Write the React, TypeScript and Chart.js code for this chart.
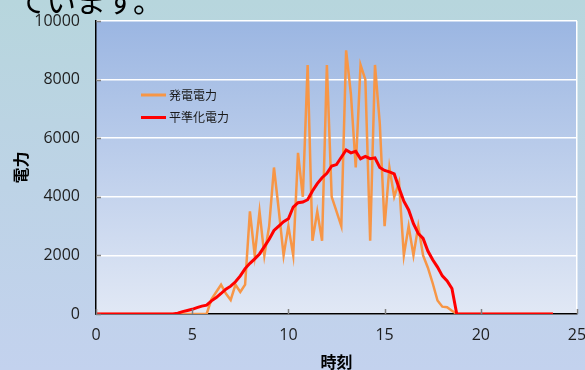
import React, { useEffect, useRef } from 'react';
import { Chart, registerables } from 'chart.js';

Chart.register(...registerables);

const captionText = 'ています。';
const seriesLabels = ['発電電力', '平準化電力'];
const xTitle = '時刻';
const yTitle = '電力';
const xTicks = [0, 5, 10, 15, 20, 25];
const yTicks = [0, 2000, 4000, 6000, 8000, 10000];

const times = [
  0, 0.25, 0.5, 0.75, 1, 1.25, 1.5, 1.75, 2, 2.25, 2.5, 2.75,
  3, 3.25, 3.5, 3.75, 4, 4.25, 4.5, 4.75, 5, 5.25, 5.5, 5.75,
  6, 6.25, 6.5, 6.75, 7, 7.25, 7.5, 7.75, 8, 8.25, 8.5, 8.75,
  9, 9.25, 9.5, 9.75, 10, 10.25, 10.5, 10.75, 11, 11.25, 11.5, 11.75,
  12, 12.25, 12.5, 12.75, 13, 13.25, 13.5, 13.75, 14, 14.25, 14.5, 14.75,
  15, 15.25, 15.5, 15.75, 16, 16.25, 16.5, 16.75, 17, 17.25, 17.5, 17.75,
  18, 18.25, 18.5, 18.75, 19, 19.25, 19.5, 19.75, 20, 20.25, 20.5, 20.75,
  21, 21.25, 21.5, 21.75, 22, 22.25, 22.5, 22.75, 23, 23.25, 23.5, 23.75,
];

// 発電電力
const generated = [
  0, 0, 0, 0, 0, 0, 0, 0, 0, 0, 0, 0,
  0, 0, 0, 0, 0, 0, 0, 0, 0, 0, 0, 0,
  500, 750, 1000, 700, 480, 1000, 750, 1000, 3500, 2000, 3500, 2000,
  3000, 5000, 3550, 2000, 3000, 2000, 5500, 4000, 8500, 2500, 3500, 2500,
  8500, 4000, 3500, 3000, 9000, 7500, 5000, 8500, 8000, 2500, 8500, 6500,
  3000, 5000, 4000, 4500, 2000, 3000, 2000, 3000, 2000, 1580, 1050, 460,
  250, 230, 110, 0, 0, 0, 0, 0, 0, 0, 0, 0,
  0, 0, 0, 0, 0, 0, 0, 0, 0, 0, 0, 0,
];

// 平準化電力
const smoothed = [
  0, 0, 0, 0, 0, 0, 0, 0, 0, 0, 0, 0,
  0, 0, 0, 0, 0, 30, 80, 120, 160, 220, 270, 300,
  450, 560, 700, 850, 950, 1100, 1300, 1550, 1730, 1880, 2050, 2300,
  2550, 2850, 3000, 3150, 3250, 3650, 3800, 3820, 3900, 4200, 4450, 4650,
  4800, 5050, 5100, 5350, 5600, 5500, 5550, 5300, 5380, 5300, 5330, 5000,
  4900, 4850, 4780, 4300, 3850, 3550, 3080, 2750, 2580, 2150, 1850, 1600,
  1300, 1130, 870, 0, 0, 0, 0, 0, 0, 0, 0, 0,
  0, 0, 0, 0, 0, 0, 0, 0, 0, 0, 0, 0,
];

const seriesColors = ['#f79646', '#ff0000'];
const seriesWidths = [2.5, 3];

const plotBackground = {
  id: 'plotBackground',
  beforeDraw(chart: any) {
    const { ctx, chartArea } = chart;
    const { left, top, right, bottom } = chartArea;
    const g = ctx.createLinearGradient(0, top, 0, bottom);
    g.addColorStop(0, '#9bb6e2');
    g.addColorStop(1, '#e1e8f5');
    ctx.save();
    ctx.fillStyle = g;
    ctx.fillRect(left, top, right - left, bottom - top);
    ctx.restore();
  },
};

const tickMarks = {
  id: 'tickMarks',
  afterDraw(chart: any) {
    const { ctx, chartArea, scales } = chart;
    ctx.save();
    ctx.strokeStyle = '#7f7f7f';
    ctx.lineWidth = 1.5;
    xTicks.forEach((v) => {
      const px = Math.round(scales.x.getPixelForValue(v)) + 0.5;
      ctx.beginPath();
      ctx.moveTo(px, chartArea.bottom);
      ctx.lineTo(px, chartArea.bottom - 5);
      ctx.stroke();
    });
    yTicks.forEach((v) => {
      const py = Math.round(scales.y.getPixelForValue(v)) + 0.5;
      ctx.beginPath();
      ctx.moveTo(chartArea.left, py);
      ctx.lineTo(chartArea.left + 5, py);
      ctx.stroke();
    });
    ctx.restore();
  },
};

const insideLegend = {
  id: 'insideLegend',
  afterDraw(chart: any) {
    const { ctx, chartArea } = chart;
    const x0 = chartArea.left + 45;
    const rows = [chartArea.top + 74, chartArea.top + 96.5];
    ctx.save();
    chart.data.datasets.forEach((ds: any, i: number) => {
      const y = rows[i];
      ctx.strokeStyle = ds.borderColor;
      ctx.lineWidth = 3;
      ctx.beginPath();
      ctx.moveTo(x0, y);
      ctx.lineTo(x0 + 25, y);
      ctx.stroke();
      ctx.fillStyle = '#1a1a1a';
      ctx.font = '12px "Noto Sans CJK JP"';
      ctx.textBaseline = 'middle';
      ctx.textAlign = 'left';
      ctx.fillText(ds.label, x0 + 28, y);
    });
    ctx.restore();
  },
};

export default function App() {
  const canvasRef = useRef<HTMLCanvasElement | null>(null);

  useEffect(() => {
    if (!canvasRef.current) return;
    const datasets = [generated, smoothed].map((vals, i) => ({
      label: seriesLabels[i],
      data: times.map((t, j) => ({ x: t, y: vals[j] })),
      borderColor: seriesColors[i],
      backgroundColor: seriesColors[i],
      borderWidth: seriesWidths[i],
      pointRadius: 0,
      tension: 0,
      fill: false,
      order: i === 0 ? 1 : 0,
    }));
    const chart = new Chart(canvasRef.current, {
      type: 'line',
      data: { datasets },
      plugins: [plotBackground, tickMarks, insideLegend],
      options: {
        responsive: false,
        animation: false,
        devicePixelRatio: 1,
        layout: { padding: { left: 0, right: 8, top: 21, bottom: 0 } },
        plugins: {
          legend: { display: false },
          tooltip: { enabled: false },
        },
        scales: {
          x: {
            type: 'linear',
            min: 0,
            max: 25,
            afterBuildTicks: (s: any) => {
              s.ticks = xTicks.map((v) => ({ value: v }));
            },
            ticks: {
              stepSize: 5,
              color: '#1e1e1e',
              font: { family: '"Open Sans"', size: 16 },
              padding: 12,
              maxRotation: 0,
            },
            grid: {
              drawTicks: false,
              color: (c: any) => (c.tick && c.tick.value === 25 ? '#ffffff' : 'rgba(0,0,0,0)'),
              lineWidth: 1.5,
            },
            border: { display: true, color: '#000000', width: 1.5 },
            title: {
              display: true,
              text: xTitle,
              color: '#000000',
              font: { family: '"Noto Sans CJK JP"', size: 16, weight: 'bold', lineHeight: 1 },
              padding: { top: 0, bottom: 0 },
            },
            afterFit: (s: any) => {
              s.height = 56;
              s.paddingRight = 0;
              s.paddingLeft = 0;
            },
          },
          y: {
            min: 0,
            max: 10000,
            afterBuildTicks: (s: any) => {
              s.ticks = yTicks.map((v) => ({ value: v }));
            },
            ticks: {
              stepSize: 2000,
              color: '#1e1e1e',
              font: { family: '"Open Sans"', size: 16 },
              padding: 16,
              callback: (v: any) => String(v),
            },
            grid: {
              drawTicks: false,
              color: '#ffffff',
              lineWidth: 1.5,
            },
            border: { display: true, color: '#000000', width: 1.5 },
            title: {
              display: true,
              text: yTitle,
              color: '#000000',
              font: { family: '"Noto Sans CJK JP"', size: 16, weight: 'bold', lineHeight: 1 },
              padding: { top: 13, bottom: 0 },
            },
            afterFit: (s: any) => {
              s.width = 96;
              s.paddingTop = 0;
              s.paddingBottom = 0;
            },
          },
        },
      } as any,
    });
    return () => chart.destroy();
  }, []);

  return (
    <div
      style={{
        position: 'absolute',
        left: 0,
        top: 0,
        width: 585,
        height: 370,
        overflow: 'hidden',
        background: 'linear-gradient(to bottom, #b7d6dd 0%, #bdd3e6 50%, #c3d2ee 100%)',
      }}
    >
      <canvas ref={canvasRef} width={585} height={370} style={{ position: 'absolute', left: 0, top: 0 }} />
      <div
        style={{
          position: 'absolute',
          left: 16,
          top: -16,
          fontSize: 30,
          lineHeight: '30px',
          fontFamily: '"Noto Sans CJK JP"',
          color: '#000000',
          whiteSpace: 'nowrap',
        }}
      >
        {captionText}
      </div>
    </div>
  );
}
